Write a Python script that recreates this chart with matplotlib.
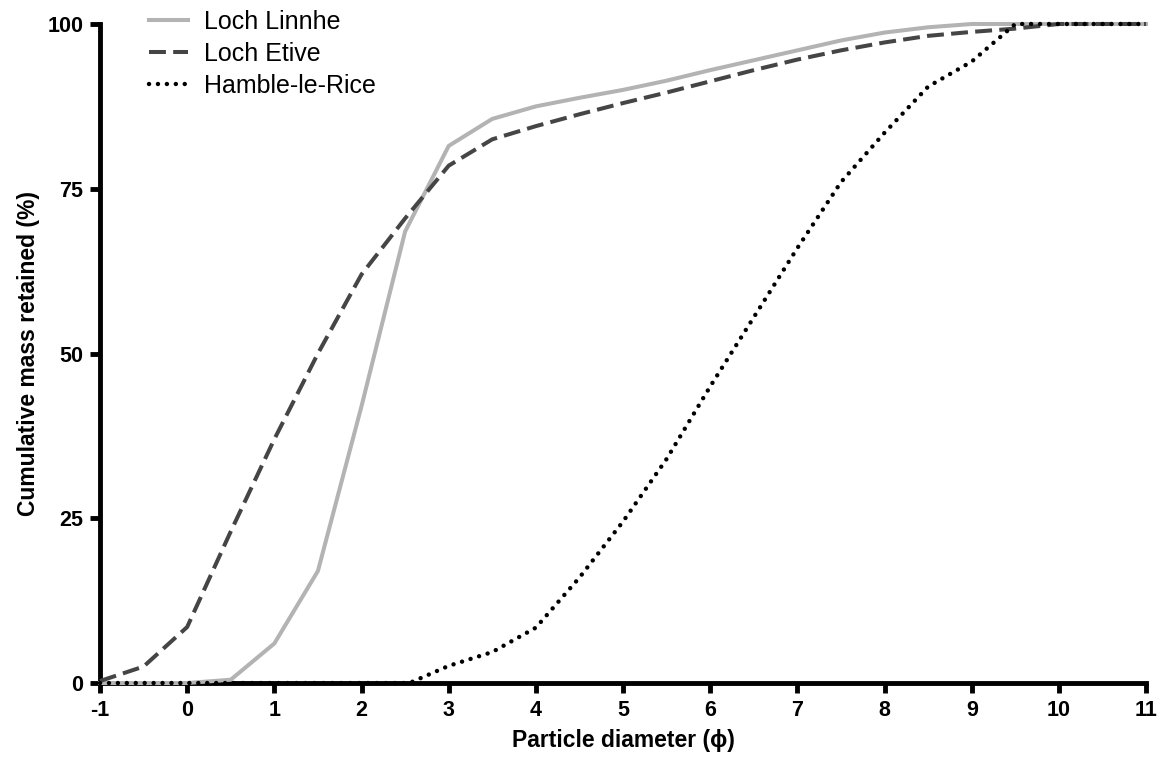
import matplotlib
matplotlib.use("Agg")
import matplotlib.pyplot as plt

# particle diameter in phi units
phi = [-1, -0.5, 0, 0.5, 1, 1.5, 2, 2.5, 3, 3.5, 4, 4.5, 5, 5.5, 6, 6.5, 7,
       7.5, 8, 8.5, 9, 9.5, 10, 10.5, 11]

# cumulative mass retained (%)
linnhe = [0, 0, 0, 0.5, 6, 17, 42, 68.5, 81.5, 85.6, 87.5, 88.8, 90, 91.4, 93,
          94.5, 96, 97.5, 98.7, 99.5, 100, 100, 100, 100, 100]
etive = [0.3, 2.5, 8.5, 23, 37, 50, 62, 70.5, 78.5, 82.5, 84.5, 86.3, 88,
         89.6, 91.3, 93, 94.6, 96, 97.2, 98.2, 98.8, 99.3, 100, 100, 100]
hamble = [0, 0, 0, 0, 0, 0, 0, 0, 2.6, 4.7, 8.4, 16, 24.5, 34, 45, 55.5, 66,
          76, 83.5, 90.5, 94.3, 100, 100, 100, 100]

# the hamble curve leaves zero just past 2.5
hamble_x = phi[:8] + [2.55] + phi[8:]
hamble_y = hamble[:8] + [0] + hamble[8:]

FONT = ["Liberation Sans", "DejaVu Sans"]
plt.rcParams["font.family"] = FONT
plt.rcParams["axes.unicode_minus"] = False

fig = plt.figure(figsize=(11.6, 7.64), dpi=100)
ax = fig.add_axes([0.0862, 0.106, 0.9018, 0.8626])

ax.plot(phi, linnhe, color="#b3b3b3", lw=2.9, label="Loch Linnhe",
        clip_on=False, zorder=3)
ax.plot(phi, etive, color="#454545", lw=2.9, linestyle=(0, (4.2, 1.8)),
        label="Loch Etive", clip_on=False, zorder=4)
ax.plot(hamble_x, hamble_y, color="black", lw=3.2, linestyle=(0, (0.01, 2.0)),
        dash_capstyle="round", label="Hamble-le-Rice", clip_on=False, zorder=5)

ax.set_xlim(-1, 11)
ax.set_ylim(0, 100)
ax.set_xticks(range(-1, 12))
ax.set_yticks([0, 25, 50, 75, 100])

for side in ["top", "right"]:
    ax.spines[side].set_visible(False)
for side in ["left", "bottom"]:
    ax.spines[side].set_linewidth(3.5)

ax.tick_params(width=3.5, length=7, labelsize=15.5, pad=5)
for lab in ax.get_xticklabels() + ax.get_yticklabels():
    lab.set_fontweight("bold")

ax.set_xlabel("Particle diameter (ϕ)", fontsize=16.5, fontweight="bold",
              labelpad=6)
ax.set_ylabel("Cumulative mass retained (%)", fontsize=16.5, fontweight="bold",
              labelpad=5)

fig.legend(loc="upper left", bbox_to_anchor=(0.109, 1.017), frameon=False,
           fontsize=18, handlelength=1.56, handletextpad=0.64,
           labelspacing=0.33)

fig.savefig("out.png", dpi=100)
